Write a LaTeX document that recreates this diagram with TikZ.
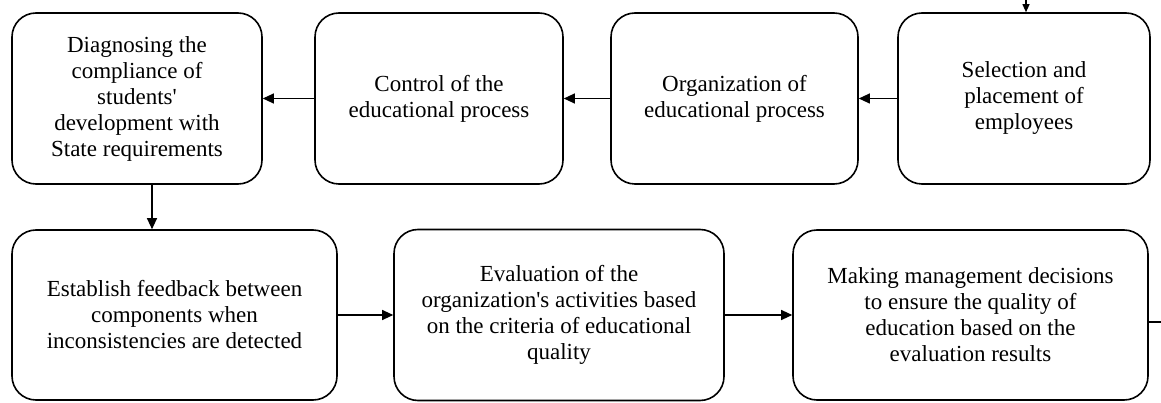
\documentclass[tikz,border=0pt]{standalone}
\usepackage{fontspec}
\setmainfont{Liberation Serif}
\usetikzlibrary{arrows.meta}
\begin{document}
\begin{tikzpicture}[x=1pt,y=-1pt,
    stage/.style={draw,line width=1.6pt,rounded corners=24pt,align=center,
      font=\fontsize{23}{26}\selectfont,inner sep=0pt},
    flow/.style={line width=1.1pt,-{Triangle[length=11pt,width=10pt]}}]
        \useasboundingbox (0,0) rectangle (1161,403);
        %% Upper row
        \node[stage,minimum width=250pt,minimum height=171pt] (diag) at (137,98.5)
          {Diagnosing the\\compliance of\\students\textquotesingle\\development with\\State requirements};
        \node[stage,minimum width=248pt,minimum height=171pt] (control) at (439,98.5)
          {Control of the\\educational process};
        \node[stage,minimum width=247pt,minimum height=171pt] (organ) at (734.5,98.5)
          {Organization of\\educational process};
        \node[stage,minimum width=252pt,minimum height=171pt] (select) at (1024,98.5)
          {Selection and\\placement of\\employees};
        %% Lower row
        \node[stage,minimum width=325pt,minimum height=170pt] (feedback) at (174.5,315)
          {Establish feedback between\\components when\\inconsistencies are detected};
        \node[stage,minimum width=330pt,minimum height=171pt] (evaluate) at (559,315)
          {Evaluation of the\\organization\textquotesingle s activities based\\on the criteria of educational\\quality};
        \node[stage,minimum width=355pt,minimum height=170pt] (decide) at (970.5,315)
          {Making management decisions\\to ensure the quality of\\education based on the\\evaluation results};
        %% Loose ends
        \coordinate (entry) at (1026,0);
        \coordinate (exit) at (1161,322);
        %% Arrows
        \draw[line width=1.1pt,-{Triangle[length=8pt,width=7pt]}] (entry) -- (select.north -| entry);
        \draw[flow] (select) -- (organ);
        \draw[flow] (organ) -- (control);
        \draw[flow] (control) -- (diag);
        \draw[flow] ([xshift=15pt]diag.south) -- ([xshift=-22.5pt]feedback.north);
        \draw[flow] (feedback) -- (evaluate);
        \draw[flow] (evaluate) -- (decide);
        \draw[line width=1.1pt] (decide.east |- exit) -- (exit);
    \end{tikzpicture}
\end{document}
